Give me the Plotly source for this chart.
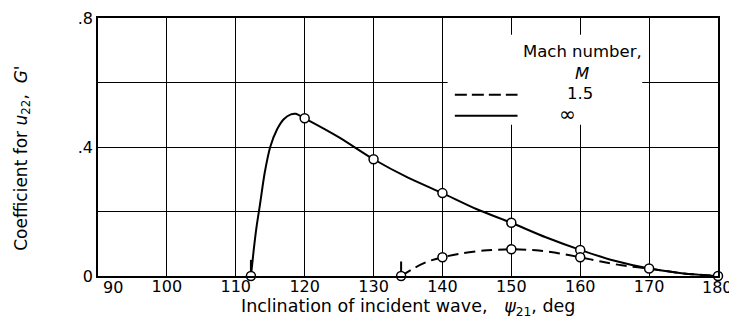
import plotly.graph_objects as go

# Data
# M = infinity (solid) curve
inf_curve_x = [112.2, 112.6, 113.0, 113.5, 114.2, 115.0, 116.0, 117.0, 118.0, 118.7, 120.0, 125.0, 130.0, 135.0, 140.0, 145.0, 150.0, 155.0, 160.0, 165.0, 170.0, 175.0, 180.0]
inf_curve_y = [0.0, 0.08, 0.15, 0.22, 0.32, 0.40, 0.455, 0.487, 0.501, 0.503, 0.489, 0.43, 0.362, 0.305, 0.257, 0.207, 0.165, 0.12, 0.081, 0.047, 0.023, 0.008, 0.0]
inf_pts_x = [112.2, 120, 130, 140, 150, 160, 170, 180]
inf_pts_y = [0.0, 0.489, 0.362, 0.257, 0.165, 0.081, 0.023, 0.0]

# M = 1.5 (dashed) curve
m15_curve_x = [134.0, 136.0, 138.0, 140.0, 143.0, 146.0, 150.0, 154.0, 157.0, 160.0, 163.0, 166.0, 170.0, 175.0, 180.0]
m15_curve_y = [0.0, 0.026, 0.046, 0.058, 0.071, 0.079, 0.083, 0.079, 0.07, 0.058, 0.045, 0.033, 0.023, 0.008, 0.0]
m15_pts_x = [134.0, 140, 150, 160]
m15_pts_y = [0.0, 0.058, 0.083, 0.058]

# start ticks of the curves
start_x = [112.2, 134.0]
start_top = [0.05, 0.045]

x_ticks = [100, 110, 120, 130, 140, 150, 160, 170]
x_ticktext = ["100", "110", "120", "130", "140", "150", "160", "170"]
x_end_labels = ["90", "180"]
y_ticks = [0, 0.4, 0.8]
y_ticktext = ["0", ".4", ".8"]
y_minor_grid = [0.2, 0.6]

FONT = "DejaVu Sans"

fig = go.Figure()

fig.add_trace(go.Scatter(x=inf_curve_x, y=inf_curve_y, mode="lines",
                         line=dict(color="black", width=2, shape="spline", smoothing=0.7),
                         hoverinfo="skip"))
fig.add_trace(go.Scatter(x=m15_curve_x, y=m15_curve_y, mode="lines",
                         line=dict(color="black", width=2, dash="11px,6px", shape="spline", smoothing=0.7),
                         hoverinfo="skip"))
for sx, st in zip(start_x, start_top):
    fig.add_trace(go.Scatter(x=[sx, sx], y=[0, st], mode="lines",
                             line=dict(color="black", width=2), hoverinfo="skip"))
fig.add_trace(go.Scatter(x=inf_pts_x, y=inf_pts_y, mode="markers", cliponaxis=False,
                         marker=dict(symbol="circle", size=9, color="white",
                                     line=dict(color="black", width=1.5))))
fig.add_trace(go.Scatter(x=m15_pts_x, y=m15_pts_y, mode="markers", cliponaxis=False,
                         marker=dict(symbol="circle", size=9, color="white",
                                     line=dict(color="black", width=1.5))))

# legend box (white, hides grid) and its line samples
fig.add_shape(type="rect", x0=140.75, x1=169.0, y0=0.469, y1=0.748,
              fillcolor="white", line=dict(width=0), layer="between")
fig.add_shape(type="line", x0=141.8, x1=150.9, y0=0.562, y1=0.562,
              line=dict(color="black", width=2, dash="12px,5px"))
fig.add_shape(type="line", x0=141.8, x1=150.9, y0=0.497, y1=0.497,
              line=dict(color="black", width=2))

ann_font = dict(family=FONT, size=16.5, color="black")
fig.add_annotation(x=160.35, y=0.695, text="Mach number,", showarrow=False, font=ann_font)
fig.add_annotation(x=160.2, y=0.627, text="<i>M</i>", showarrow=False, font=ann_font)
fig.add_annotation(x=159.9, y=0.565, text="1.5", showarrow=False, font=ann_font)
fig.add_annotation(x=158.1, y=0.503, text="∞", showarrow=False, font=dict(family=FONT, size=20, color="black"))

tick_font = dict(family=FONT, size=16, color="black")
# x tick labels at the ends, and axis titles
fig.add_annotation(xref="paper", yref="paper", x=0.005, y=-0.045, text=x_end_labels[0], showarrow=False,
                   font=tick_font, yanchor="middle")
fig.add_annotation(xref="paper", yref="paper", x=0.971, y=-0.045, text=x_end_labels[1], showarrow=False,
                   font=tick_font, xanchor="left", yanchor="middle")
fig.add_annotation(xref="paper", yref="paper", x=0.5, y=-0.122, showarrow=False,
                   text="Inclination of incident wave,&nbsp;&nbsp;&nbsp;<i>ψ</i><sub>21</sub>, deg",
                   font=dict(family=FONT, size=17.5, color="black"), yanchor="middle")
fig.add_annotation(xref="paper", yref="paper", x=-0.123, y=0.457, showarrow=False, textangle=-90,
                   text="Coefficient for <i>u</i><sub>22</sub>,&nbsp;&nbsp;<i>G'</i>",
                   font=dict(family=FONT, size=17, color="black"), xanchor="center", yanchor="middle")

fig.update_xaxes(range=[90, 180], tickvals=x_ticks, ticktext=x_ticktext,
                 showgrid=True, gridcolor="black", gridwidth=1.3,
                 showline=True, linecolor="black", linewidth=1.5, mirror=True,
                 ticks="", zeroline=False, ticklabelstandoff=-5, automargin=False,
                 tickfont=tick_font)
fig.update_yaxes(range=[0, 0.8], tickvals=y_ticks, ticktext=y_ticktext,
                 showgrid=True, gridcolor="black", gridwidth=1.3,
                 minor=dict(tickvals=y_minor_grid, showgrid=True, gridcolor="black", gridwidth=1.3, ticks=""),
                 showline=True, linecolor="black", linewidth=1.5, mirror=True,
                 ticks="", zeroline=False, automargin=False,
                 tickfont=tick_font)

# the page body has an 8px margin, so the figure is sized and margined to keep
# the plot area at the reference's pixel position in the 737x319 window
fig.update_layout(width=729, height=311, showlegend=False,
                  plot_bgcolor="white", paper_bgcolor="white",
                  margin=dict(l=90, r=19, t=10, b=43),
                  font=dict(family=FONT, color="black"))

fig.write_html("out.html")
